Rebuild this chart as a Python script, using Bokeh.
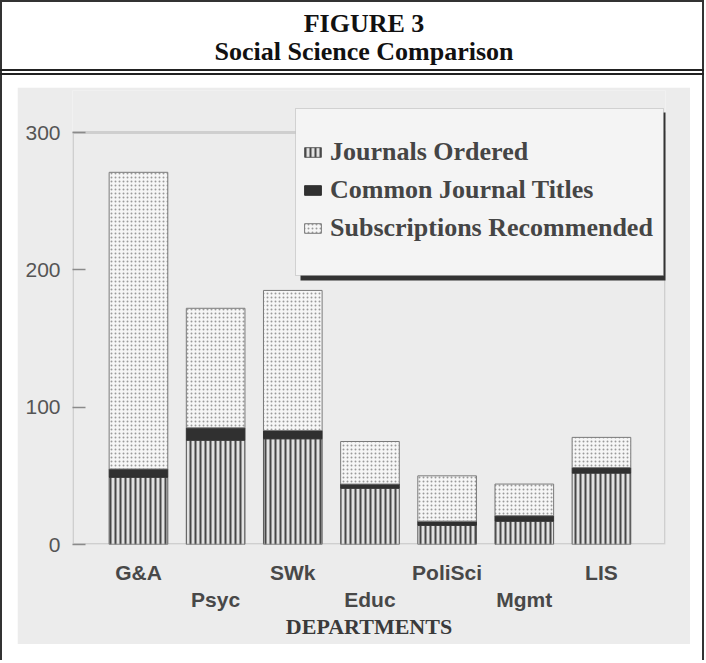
from bokeh.plotting import figure
from bokeh.models import (ColumnDataSource, Range1d, FixedTicker, LinearAxis,
                          BoxAnnotation, Legend, LegendItem, Div, Spacer)
from bokeh.layouts import column, row
from bokeh.embed import file_html
from bokeh.resources import INLINE

# ---------------- data ----------------
categories = ["G&A", "Psyc", "SWk", "Educ", "PoliSci", "Mgmt", "LIS"]
journals_ordered = [49, 76, 77, 41, 14, 17, 52]
common_titles = [6, 9, 6, 3, 3, 4, 4]
subs_recommended = [216, 87, 102, 31, 33, 23, 22]
y_ticks = [0, 100, 200, 300]
series_names = ["Journals Ordered", "Common Journal Titles", "Subscriptions Recommended"]
fig_number = "FIGURE 3"
fig_title = "Social Science Comparison"
x_title = "DEPARTMENTS"

# ---------------- derived stacking ----------------
n = len(categories)
xs = list(range(n))
t1 = list(journals_ordered)
t2 = [a + b for a, b in zip(t1, common_titles)]
t3 = [a + b for a, b in zip(t2, subs_recommended)]
src = ColumnDataSource(dict(x=xs, cat=categories, b0=[0] * n, t1=t1, t2=t2, t3=t3))

GRAY = "#ececec"
TXT = "#484848"

# layout geometry (pixels)
TOTAL_W, HEADER_H = 704, 87
FIG_W, FIG_H = 673, 557
LEFT_PAD, RIGHT_PAD = 17, 14
BOTTOM_PAD = 16
FRAME_L, FRAME_R, FRAME_T, FRAME_B = 55, 25, 3, 100
PX_PER_UNIT = 412 / 300.0           # 300 units over 412 px
Y_TOP = 300 + 42 / PX_PER_UNIT      # frame extends 42 px above the 300 line

p = figure(width=FIG_W, height=FIG_H, output_backend="svg", toolbar_location=None,
           x_range=Range1d(-0.855, 6.83), y_range=Range1d(0, Y_TOP),
           min_border_left=FRAME_L, min_border_right=FRAME_R,
           min_border_top=FRAME_T, min_border_bottom=FRAME_B,
           background_fill_color=GRAY, border_fill_color=GRAY,
           outline_line_color=None)
p.grid.visible = False
p.margin = 0

# chart box (0..300)
p.add_layout(BoxAnnotation(bottom=0, top=y_ticks[-1], fill_alpha=0,
                           line_color="#8a8a8a", line_width=3))

# ---------------- bars ----------------
W = 0.76
r_jo = p.vbar(x="x", bottom="b0", top="t1", width=W, source=src,
              fill_color="#e2e2e2", line_color="#5a5a5a", line_width=1,
              hatch_pattern="vertical_line", hatch_color="#474747",
              hatch_scale=5, hatch_weight=2)
r_ct = p.vbar(x="x", bottom="t1", top="t2", width=W, source=src,
              fill_color="#303030", line_color="#303030", line_width=1)
r_sr = p.vbar(x="x", bottom="t2", top="t3", width=W, source=src,
              fill_color="#f6f6f6", line_color="#7a7a7a", line_width=1,
              hatch_pattern="dot", hatch_color="#9a9a9a",
              hatch_scale=4, hatch_weight=1)

# ---------------- axes ----------------
yax = p.yaxis[0]
yax.ticker = FixedTicker(ticks=y_ticks)
yax.axis_line_color = None
yax.major_tick_in = 13
yax.major_tick_out = 0
yax.major_tick_line_color = "#8a8a8a"
yax.major_tick_line_width = 1.5
yax.minor_tick_line_color = None
yax.major_label_standoff = 12
yax.major_label_text_font = "Liberation Sans"
yax.major_label_text_font_size = "21px"
yax.major_label_text_color = "#555555"

def style_x(ax):
    ax.axis_line_color = None
    ax.major_tick_line_color = None
    ax.minor_tick_line_color = None
    ax.major_tick_in = 0
    ax.major_tick_out = 0
    ax.major_label_text_font = "Liberation Sans"
    ax.major_label_text_font_style = "bold"
    ax.major_label_text_font_size = "21px"
    ax.major_label_text_color = TXT

xax1 = p.xaxis[0]
xax1.ticker = FixedTicker(ticks=[i for i in xs if i % 2 == 0])
xax1.major_label_overrides = {i: categories[i] for i in xs if i % 2 == 0}
style_x(xax1)
xax1.major_label_standoff = 16

xax2 = LinearAxis(ticker=FixedTicker(ticks=[i for i in xs if i % 2 == 1]),
                  major_label_overrides={i: categories[i] for i in xs if i % 2 == 1})
style_x(xax2)
xax2.major_label_standoff = 1
xax2.axis_label = x_title
xax2.axis_label_standoff = 0
xax2.axis_label_text_font = "Liberation Serif"
xax2.axis_label_text_font_style = "bold"
xax2.axis_label_text_font_size = "22px"
xax2.axis_label_text_color = "#3a3a3a"
p.add_layout(xax2, "below")

# ---------------- legend ----------------
def canvas_box(l, r, t, b, **kw):
    return BoxAnnotation(left=l, right=r, top=t, bottom=b,
                         left_units="canvas", right_units="canvas",
                         top_units="canvas", bottom_units="canvas", **kw)

p.add_layout(canvas_box(283, 651, 25, 193, fill_color="#333333", fill_alpha=1, line_alpha=0))
p.add_layout(canvas_box(278, 646, 21, 188, fill_color="#f4f4f4", fill_alpha=1,
                        line_color="#8a8a8a", line_width=1))
legend = Legend(items=[LegendItem(label=series_names[0], renderers=[r_jo]),
                       LegendItem(label=series_names[1], renderers=[r_ct]),
                       LegendItem(label=series_names[2], renderers=[r_sr])],
                location=(230, 301), padding=0, margin=0, spacing=8,
                glyph_width=21, glyph_height=12, label_standoff=7, label_height=20,
                label_text_font="Liberation Serif", label_text_font_style="bold",
                label_text_font_size="26px", label_text_color="#454545",
                border_line_alpha=0, background_fill_alpha=0)
p.add_layout(legend)

# ---------------- header (figure number, title, double rule) ----------------
header_html = f"""
<div style="position:relative;width:{TOTAL_W}px;height:{HEADER_H}px;
            font-family:'Liberation Serif';font-weight:bold;color:#111;">
  <div style="position:absolute;left:12px;top:9px;width:{TOTAL_W}px;text-align:center;
              font-size:26px;line-height:30px;">{fig_number}</div>
  <div style="position:absolute;left:12px;top:37px;width:{TOTAL_W}px;text-align:center;
              font-size:26px;line-height:30px;">{fig_title}</div>
  <div style="position:absolute;left:0;top:69px;width:100%;height:2px;background:#222;"></div>
  <div style="position:absolute;left:0;top:73px;width:100%;height:2px;background:#222;"></div>
</div>
"""
header = Div(text=header_html, width=TOTAL_W, height=HEADER_H, margin=0)

body = row(Spacer(width=LEFT_PAD, height=FIG_H, margin=0), p,
           Spacer(width=RIGHT_PAD, height=FIG_H, margin=0))
body.margin = 0
layout = column(header, body, Spacer(width=TOTAL_W, height=BOTTOM_PAD, margin=0),
                styles={"box-shadow": "inset 2px 0 0 #333, inset -2px 0 0 #333, inset 0 2px 0 #333",
                        "background": "white", "overflow": "hidden"})
layout.margin = 0

open("out.html", "w").write(file_html(layout, INLINE))
